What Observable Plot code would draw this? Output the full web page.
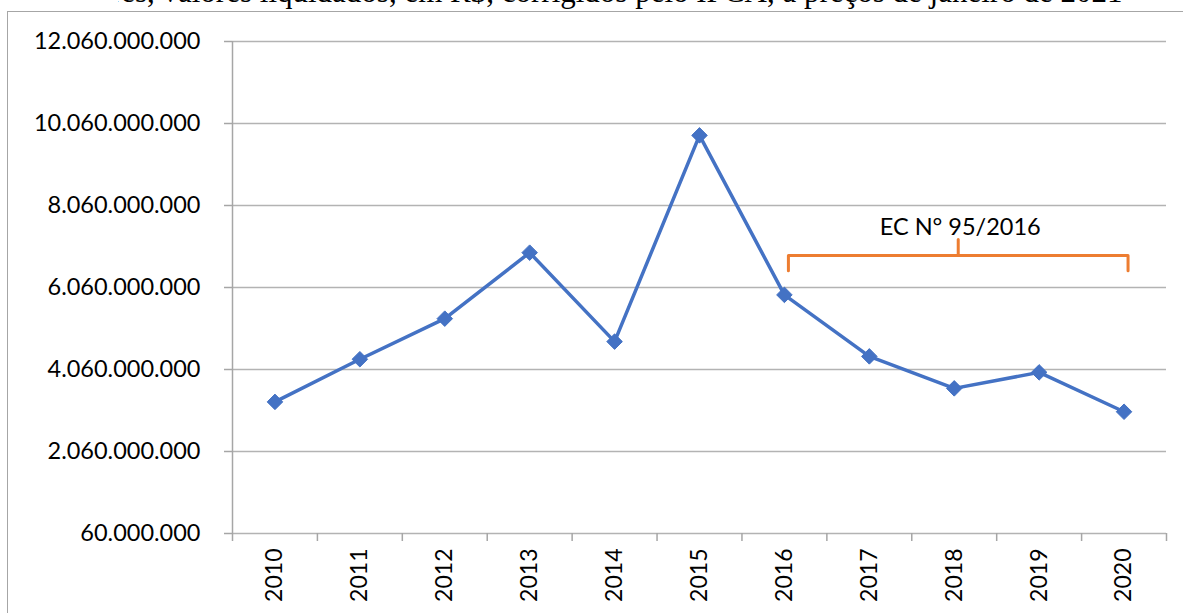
<!DOCTYPE html>
<html>
<head>
<meta charset="utf-8">
<script src="https://cdn.jsdelivr.net/npm/d3@7"></script>
<script src="https://cdn.jsdelivr.net/npm/@observablehq/plot@0.6"></script>
<style>
  html, body { margin: 0; padding: 0; background: #fff; }
  body { width: 1183px; height: 613px; position: relative; overflow: hidden; }
  #title { position: absolute; left: 118px; top: 0; width: 1065px; height: 11px; overflow: hidden; }
  #title span { position: absolute; left: 0; top: -24px; white-space: nowrap;
    font-family: "Liberation Serif", "DejaVu Serif", serif; font-size: 31px; line-height: 31px; color: #000; }
  #frame { position: absolute; left: 7px; top: 11px; width: 1190px; height: 620px; border: 1.5px solid #a6a6a6; box-sizing: border-box; }
  #chart { position: absolute; left: 0; top: 0; }
  #chart svg { overflow: visible; }
</style>
</head>
<body>
<div id="title"><span id="titleText"><span id="titlePrefix" style="position:static">Fomento, todos os setores</span>, valores liquidados, em R$, corrigidos pelo IPCA, a preços de janeiro de 2021</span></div>
<div id="frame"></div>
<div id="chart"></div>
<script>
// ---- data ----
const years = [2010, 2011, 2012, 2013, 2014, 2015, 2016, 2017, 2018, 2019, 2020];
const values = [3.27e9, 4.31e9, 5.30e9, 6.91e9, 4.74e9, 9.77e9, 5.88e9, 4.38e9, 3.60e9, 3.99e9, 3.03e9];
const yTicks = [60e6, 2.06e9, 4.06e9, 6.06e9, 8.06e9, 10.06e9, 12.06e9];
const annotationLabel = "EC N° 95/2016";
const bracketYears = [2016, 2020];
const bracketLevels = { end: 6.47e9, bar: 6.84e9, spike: 7.23e9, label: 7.35e9 };

const data = years.map((year, i) => ({ year, value: values[i] }));

// place the cropped heading so that its first comma falls where it does in the reference
const prefixW = document.getElementById("titlePrefix").getBoundingClientRect().width;
document.getElementById("titleText").style.left = (147 - 118 - prefixW) + "px";

const locale = d3.formatLocale({ decimal: ",", thousands: ".", grouping: [3], currency: ["R$", ""] });
const fmt = locale.format(",.0f");

const [b0, b1] = bracketYears;
const bm = (b0 + b1) / 2;
const bracket = [
  { x: b0, y: bracketLevels.end },
  { x: b0, y: bracketLevels.bar },
  { x: bm, y: bracketLevels.bar },
  { x: bm, y: bracketLevels.spike },
  { x: bm, y: bracketLevels.bar },
  { x: b1, y: bracketLevels.bar },
  { x: b1, y: bracketLevels.end }
];

const boundaries = years.map(y => y - 0.5).concat([years[years.length - 1] + 0.5]);
const font = "Lato, 'Open Sans', sans-serif";
const gridColor = "#b3b3b3";
const axisColor = "#a6a6a6";

const chart = Plot.plot({
  width: 1183,
  height: 613,
  marginLeft: 232,
  marginRight: 17,
  marginTop: 41,
  marginBottom: 80,
  style: { fontFamily: font, background: "transparent", overflow: "visible" },
  x: { type: "linear", domain: [years[0] - 0.5, years[years.length - 1] + 0.5] },
  y: { domain: [yTicks[0], yTicks[yTicks.length - 1]] },
  marks: [
    Plot.ruleY(yTicks, { stroke: gridColor, strokeWidth: 1.5 }),
    Plot.ruleX([years[0] - 0.5], { y1: yTicks[0], y2: yTicks[yTicks.length - 1], stroke: axisColor, strokeWidth: 1.5 }),
    Plot.axisY({ ticks: yTicks, tickFormat: fmt, tickSize: 8, tickPadding: 24, stroke: axisColor, strokeWidth: 1.5,
      fontSize: 23.5, fill: "#000", label: null }),
    Plot.axisX({ ticks: boundaries, tickFormat: () => "", tickSize: 8, stroke: axisColor, strokeWidth: 1.5, label: null }),
    Plot.axisX({ ticks: years, tickFormat: d => String(d), tickSize: 0, tickPadding: 15, tickRotate: -90,
      fontSize: 23, fill: "#000", label: null }),
    Plot.line(bracket, { x: "x", y: "y", stroke: "#ED7D31", strokeWidth: 3, dx: 4, strokeLinejoin: "round", strokeLinecap: "round" }),
    Plot.text([{ x: bm, y: bracketLevels.label, t: annotationLabel }], { x: "x", y: "y", text: "t", dx: 6,
      fontSize: 23.5, fill: "#000", fontFamily: font, lineAnchor: "bottom" }),
    Plot.line(data, { x: "year", y: "value", stroke: "#4472C4", strokeWidth: 3.5, strokeLinejoin: "round" }),
    Plot.dot(data, { x: "year", y: "value", symbol: "diamond2", r: 7, fill: "#4472C4", stroke: "#4472C4", strokeWidth: 1 })
  ]
});
document.getElementById("chart").appendChild(chart);
</script>
</body>
</html>
